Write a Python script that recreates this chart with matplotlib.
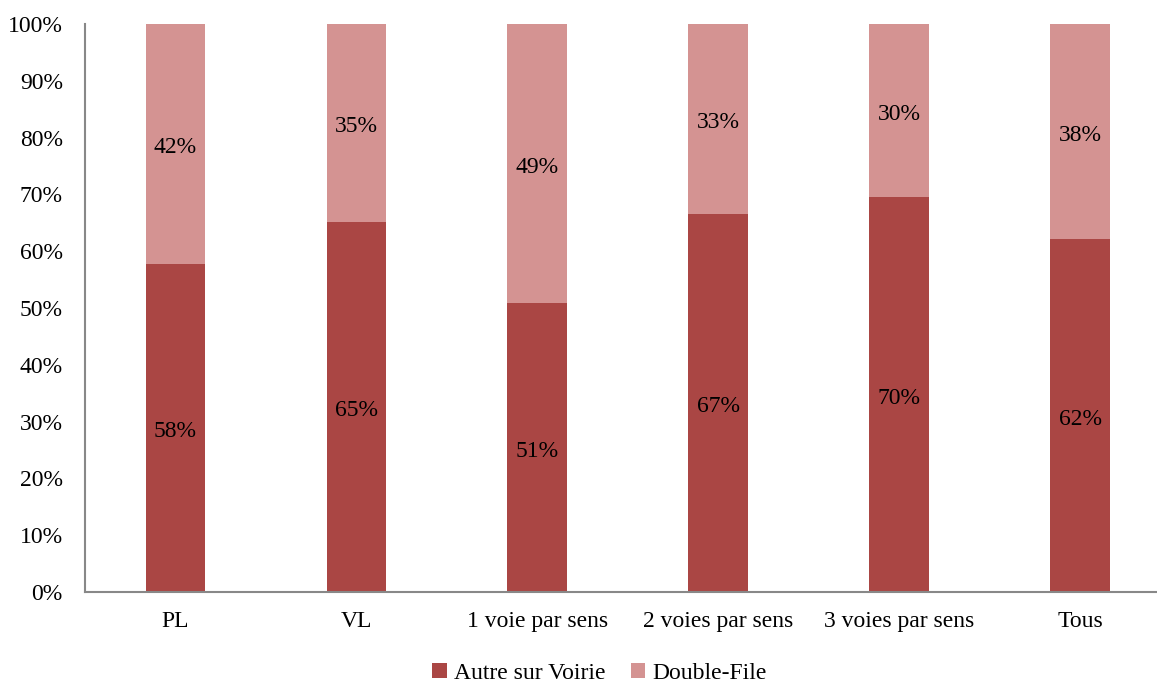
import numpy as np
import matplotlib.pyplot as plt
from matplotlib.ticker import PercentFormatter

plt.rcParams['font.family'] = ['Liberation Serif', 'DejaVu Serif']

categories = ['PL', 'VL', '1 voie par sens', '2 voies par sens', '3 voies par sens', 'Tous']
autre = [57.8, 65.2, 50.8, 66.6, 69.6, 62.2]
double_file = [42.2, 34.8, 49.2, 33.4, 30.4, 37.8]

dark = '#AA4644'
light = '#D49392'

fig = plt.figure(figsize=(11.57, 6.82), dpi=100)
ax = fig.add_axes([85 / 1157, 90 / 682, 1 - 85 / 1157, (592 - 24) / 682])

x = np.arange(len(categories))
w = 0.33
ax.bar(x, autre, w, color=dark, label='Autre sur Voirie')
ax.bar(x, double_file, w, bottom=autre, color=light, label='Double-File')

for xi, a, d in zip(x, autre, double_file):
    ax.text(xi, a / 2 - 0.7, f'{round(a)}%', ha='center', va='center', fontsize=17)
    ax.text(xi, a + d / 2 - 0.7, f'{round(d)}%', ha='center', va='center', fontsize=17)

ax.set_ylim(0, 100)
ax.set_xlim(-0.5, 5.425)
ax.set_yticks(range(0, 101, 10))
ax.yaxis.set_major_formatter(PercentFormatter(decimals=0))
ax.set_xticks(x)
ax.set_xticklabels(categories)
ax.tick_params(axis='both', length=0, labelsize=17)
ax.tick_params(axis='y', pad=16)
ax.tick_params(axis='x', pad=14)

for s in ['top', 'right']:
    ax.spines[s].set_visible(False)
for s in ['left', 'bottom']:
    ax.spines[s].set_color('#888888')
    ax.spines[s].set_linewidth(1.5)

ax.legend(loc='center', bbox_to_anchor=(0.48, -0.143), ncol=2, frameon=False,
          fontsize=17, handlelength=0.6, handleheight=0.6, handletextpad=0.3,
          columnspacing=1.1)

fig.savefig('out.png', dpi=100)
